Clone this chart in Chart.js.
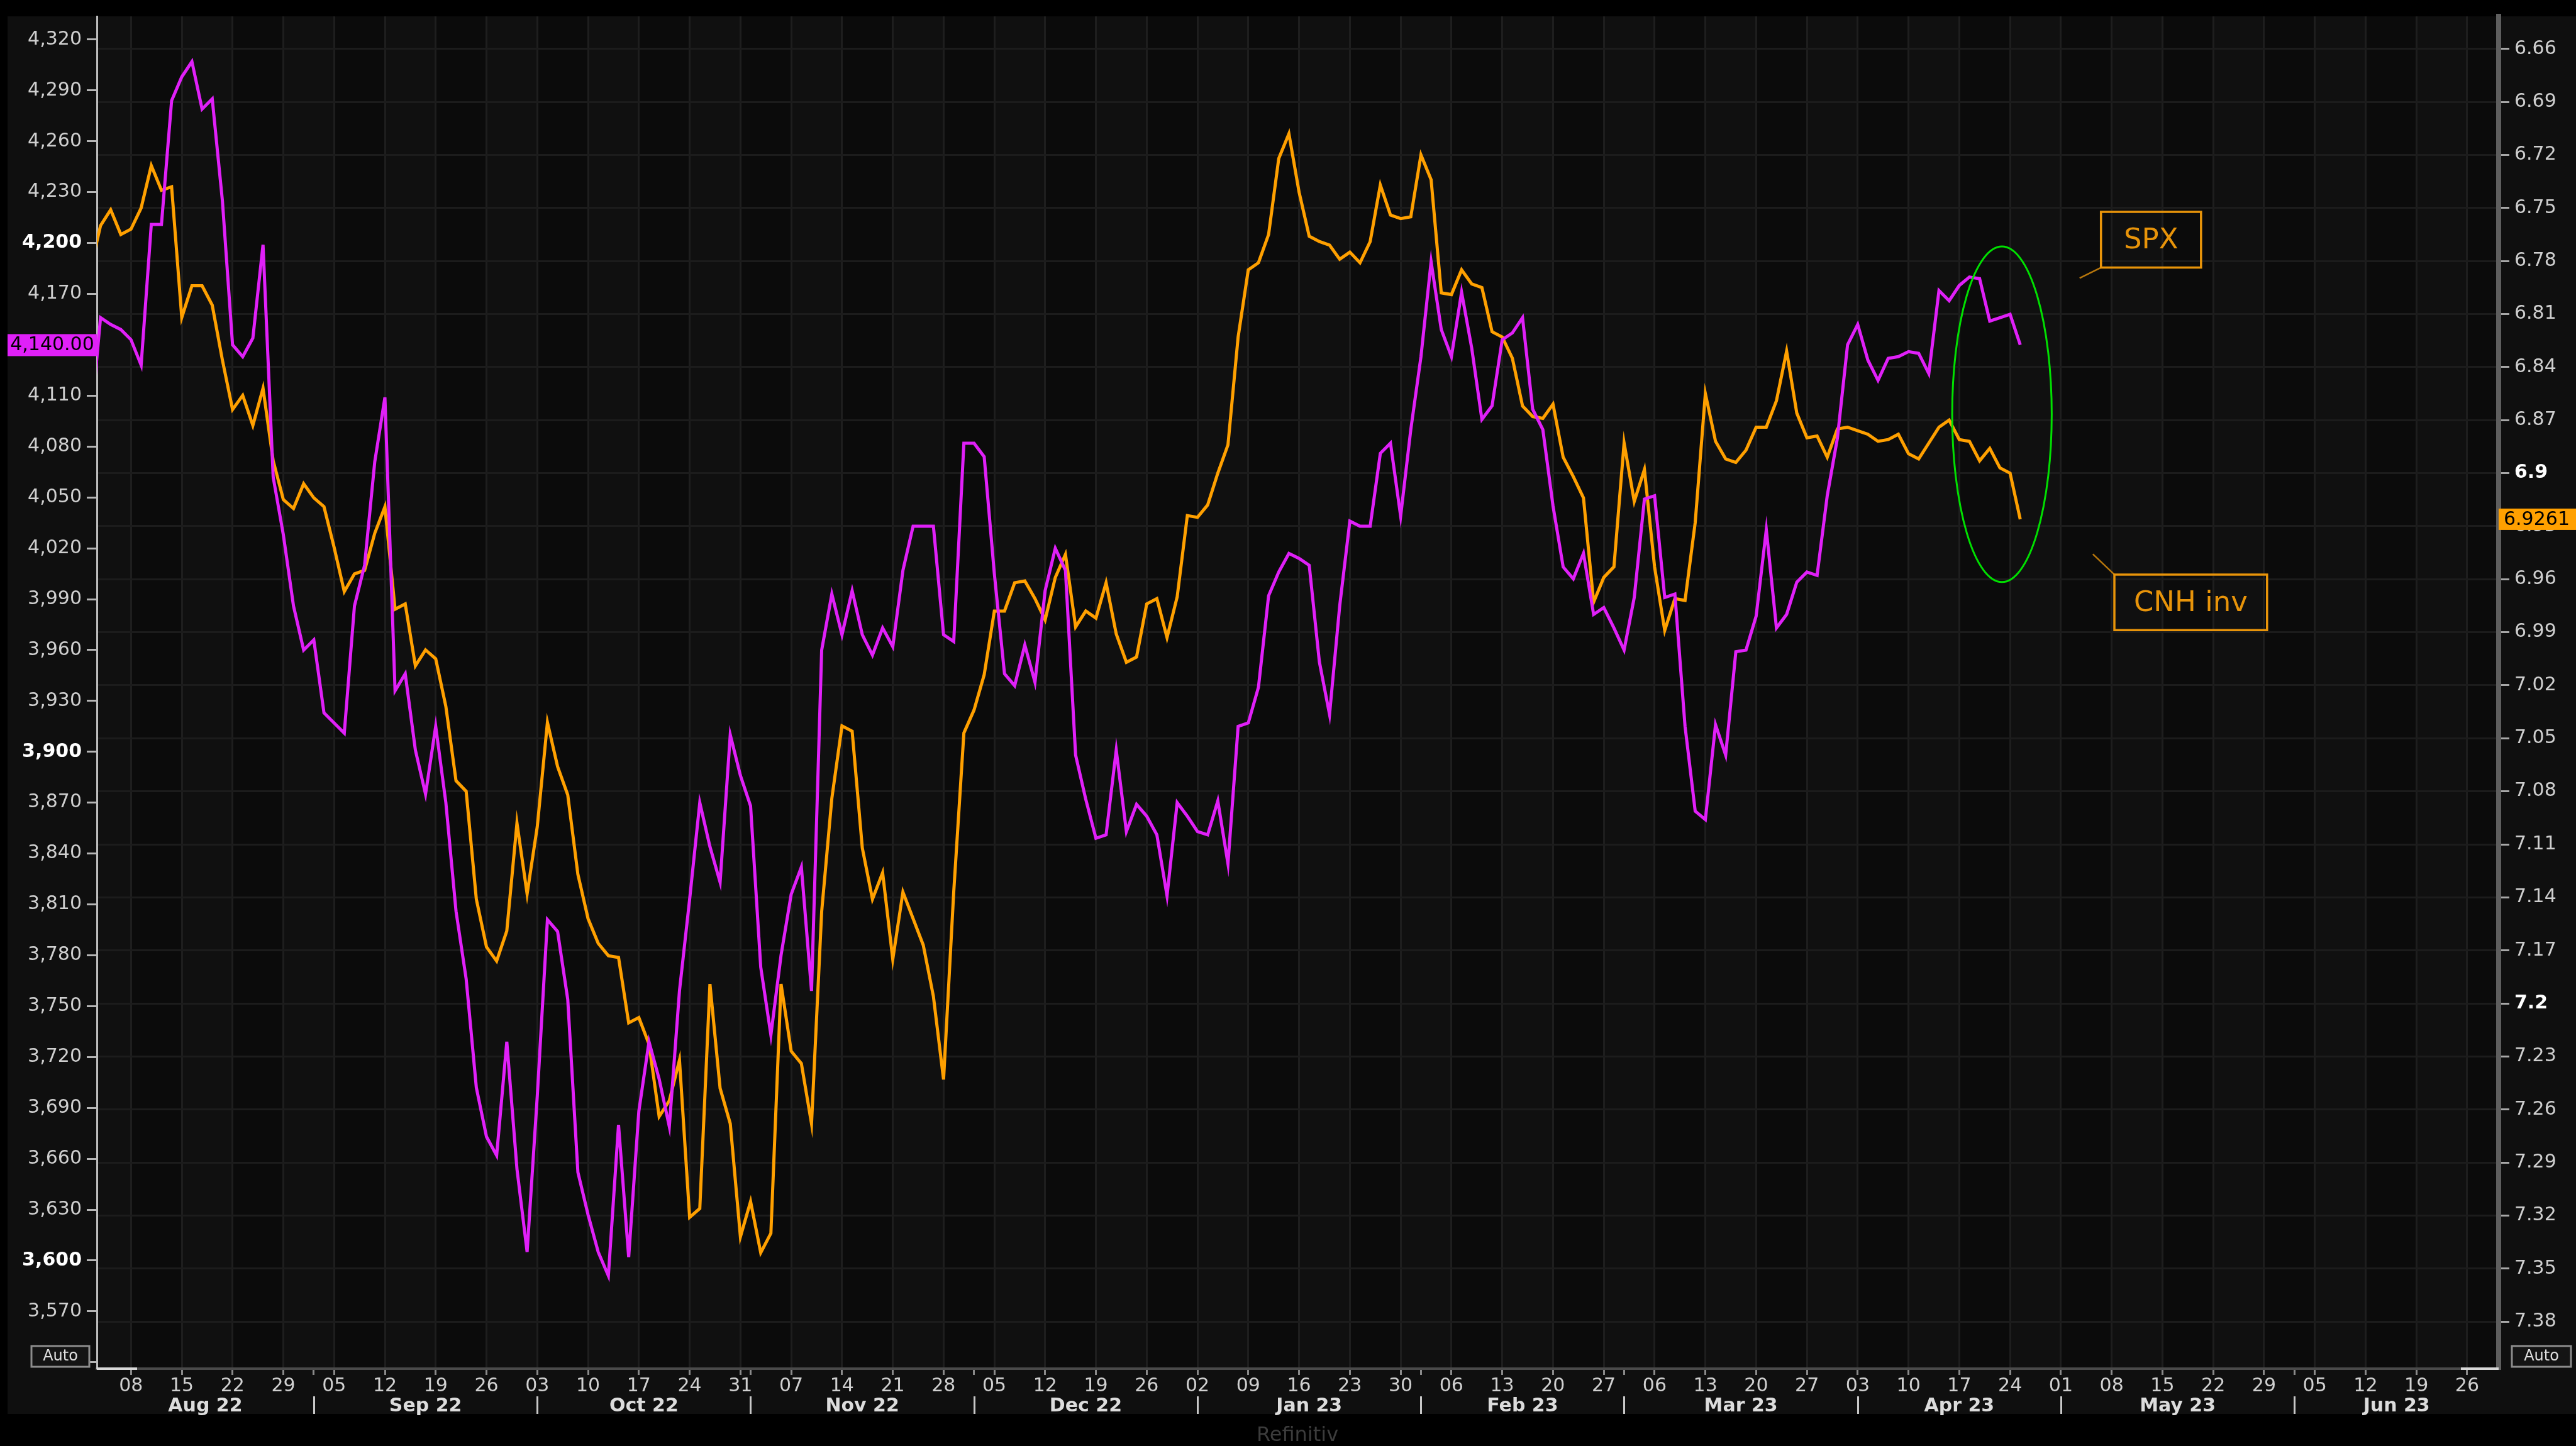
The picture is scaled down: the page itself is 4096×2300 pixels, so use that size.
<!DOCTYPE html>
<html>
<head>
<meta charset="utf-8">
<script src="https://cdn.jsdelivr.net/npm/chart.js@4.4.0/dist/chart.umd.min.js"></script>
<style>
  html, body { margin: 0; padding: 0; background: #000; }
  canvas { display: block; }
</style>
</head>
<body>
<canvas id="chart" width="4096" height="2300"></canvas>
<script>
// trading-day axis: weekdays from the first point to the end of the visible window
const firstDay = '2022-08-02';
const lastAxisDay = '2023-06-30';
const viewFrom = 0.64, viewTo = 237.1;   // visible window, in trading-day index

// SPX (left axis), one value per weekday from 2 Aug 2022
const spx = [4090, 4156, 4152, 4149,
  4143, 4128, 4211, 4211, 4284,  4298, 4307, 4279, 4285, 4225,
  4140, 4133, 4144, 4199, 4062,  4028, 3986, 3960, 3966, 3923,
  3917, 3911, 3986, 4010, 4071,  4109, 3936, 3946, 3901, 3875,
  3915, 3870, 3806, 3766, 3702,  3673, 3662, 3729, 3654, 3605,
  3697, 3801, 3794, 3754, 3652,  3627, 3605, 3591, 3680, 3602,
  3688, 3729, 3707, 3679, 3759,  3813, 3870, 3844, 3823, 3910,
  3886, 3868, 3773, 3733, 3780,  3816, 3832, 3759, 3960, 3993,
  3969, 3995, 3969, 3957, 3973,  3962, 4007, 4033, 4033, 4033,
  3969, 3965, 4082, 4082, 4074,  4005, 3946, 3939, 3963, 3941,
  3995, 4020, 4007, 3898, 3872,  3849, 3851, 3901, 3853, 3869,
  3862, 3851, 3815, 3870, 3862,  3853, 3851, 3871, 3834, 3915,
  3917, 3938, 3992, 4006, 4017,  4014, 4010, 3953, 3922, 3986,
  4036, 4033, 4033, 4076, 4082,  4039, 4090, 4133, 4189, 4149,
  4133, 4171, 4138, 4096, 4104,  4143, 4147, 4156, 4102, 4090,
  4045, 4009, 4002, 4017, 3981,  3985, 3973, 3960, 3991, 4049,
  4051, 3991, 3993, 3915, 3865,  3860, 3916, 3898, 3959, 3960,
  3980, 4031, 3973, 3981, 4000,  4006, 4004, 4051, 4085, 4140,
  4152, 4131, 4119, 4132, 4133,  4136, 4135, 4123, 4172, 4166,
  4175, 4180, 4179, 4154, 4156,  4158, 4140];

// USD/CNH (right axis, inverted)
const cnh = [6.785, 6.760, 6.751, 6.765,
  6.762, 6.750, 6.726, 6.740, 6.738,  6.812, 6.794, 6.794, 6.805, 6.836,
  6.864, 6.856, 6.873, 6.852, 6.893,  6.915, 6.920, 6.906, 6.914, 6.919,
  6.942, 6.967, 6.957, 6.955, 6.934,  6.919, 6.977, 6.974, 7.009, 7.000,
  7.005, 7.032, 7.074, 7.080, 7.141,  7.168, 7.176, 7.159, 7.098, 7.138,
  7.100, 7.041, 7.066, 7.082, 7.127,  7.152, 7.166, 7.173, 7.174, 7.211,
  7.208, 7.223, 7.264, 7.255, 7.232,  7.321, 7.316, 7.189, 7.248, 7.268,
  7.332, 7.312, 7.341, 7.330, 7.189,  7.227, 7.234, 7.268, 7.148, 7.084,
  7.043, 7.046, 7.112, 7.141, 7.126,  7.175, 7.137, 7.152, 7.167, 7.196,
  7.243, 7.137, 7.047, 7.034, 7.014,  6.978, 6.978, 6.962, 6.961, 6.971,
  6.983, 6.959, 6.946, 6.987, 6.978,  6.982, 6.962, 6.991, 7.007, 7.004,
  6.974, 6.971, 6.993, 6.970, 6.924,  6.925, 6.918, 6.900, 6.884, 6.823,
  6.785, 6.781, 6.765, 6.722, 6.708,  6.741, 6.766, 6.769, 6.771, 6.779,
  6.775, 6.781, 6.769, 6.737, 6.754,  6.756, 6.755, 6.720, 6.734, 6.798,
  6.799, 6.785, 6.793, 6.795, 6.820,  6.823, 6.835, 6.862, 6.868, 6.869,
  6.861, 6.891, 6.902, 6.914, 6.973,  6.959, 6.953, 6.883, 6.916, 6.898,
  6.953, 6.989, 6.971, 6.972, 6.928,  6.855, 6.882, 6.892, 6.894, 6.887,
  6.874, 6.874, 6.859, 6.831, 6.866,  6.880, 6.879, 6.891, 6.875, 6.874,
  6.876, 6.878, 6.882, 6.881, 6.878,  6.889, 6.892, 6.883, 6.874, 6.870,
  6.881, 6.882, 6.893, 6.886, 6.897,  6.900, 6.9261];

const leftTicks = [4320, 4290, 4260, 4230, 4200, 4170, 4140, 4110, 4080, 4050, 4020, 3990, 3960,
  3930, 3900, 3870, 3840, 3810, 3780, 3750, 3720, 3690, 3660, 3630, 3600, 3570, 3540];
const leftBold = [4200, 3900, 3600];
const rightTicks = ['6.66', '6.69', '6.72', '6.75', '6.78', '6.81', '6.84', '6.87', '6.9', '6.93',
  '6.96', '6.99', '7.02', '7.05', '7.08', '7.11', '7.14', '7.17', '7.2', '7.23', '7.26', '7.29',
  '7.32', '7.35', '7.38'];
const rightBold = ['6.9', '7.2'];
const monthNames = ['Jan', 'Feb', 'Mar', 'Apr', 'May', 'Jun', 'Jul', 'Aug', 'Sep', 'Oct', 'Nov', 'Dec'];

// annotations, in data units (x = trading-day index, y = CNH)
const ring = { x: 188.2, y: 6.8667, rx: 4.9, ry: 0.0949 };
const notes = [
  { text: 'SPX', x0: 197.95, x1: 207.8, y0: 6.7522, y1: 6.7837, lx: 195.85, ly: 6.7897, ax: 197.95, ay: 6.7837 },
  { text: 'CNH inv', x0: 199.27, x1: 214.3, y0: 6.9574, y1: 6.9888, lx: 197.15, ly: 6.9458, ax: 199.27, ay: 6.9574 }
];

const FONT = "'DejaVu Sans', sans-serif";
const MAGENTA = '#e020f8';
const ORANGE = '#ffa000';

// weekday list
const tradingDays = [];
for (let t = Date.parse(firstDay); t <= Date.parse(lastAxisDay); t += 86400000) {
  const d = new Date(t);
  const wd = d.getUTCDay();
  if (wd > 0 && wd < 6) tradingDays.push(d);
}
const mondays = [];
const monthStarts = [];
tradingDays.forEach((d, i) => {
  if (d.getUTCDay() === 1) mondays.push(i);
  if (i > 0 && d.getUTCMonth() !== tradingDays[i - 1].getUTCMonth()) monthStarts.push(i);
});
const mondaySet = new Set(mondays);
const xTicks = Array.from(new Set([...mondays, ...monthStarts])).sort((a, b) => a - b);

const tickVal = ctx => (ctx && ctx.tick) ? ctx.tick.value : NaN;
const isLeftBold = ctx => leftBold.includes(tickVal(ctx));
const isRightBold = ctx => rightBold.includes(String(+(+tickVal(ctx)).toFixed(2)));

const decor = {
  id: 'decor',
  beforeDraw(chart) {
    const { ctx, chartArea: a, scales: { x } } = chart;
    ctx.save();
    ctx.fillStyle = '#000';
    ctx.fillRect(0, 0, chart.width, chart.height);
    ctx.fillStyle = '#0f0f0f';
    ctx.fillRect(12, a.top, chart.width - 12, a.bottom + 72 - a.top);
    // alternating weekly bands
    const edges = [viewFrom, ...mondays.filter(m => m > viewFrom && m < viewTo), viewTo];
    for (let k = 0; k < edges.length - 1; k++) {
      ctx.fillStyle = (k % 2) === 0 ? '#101010' : '#0b0b0b';
      const p0 = x.getPixelForValue(edges[k]), p1 = x.getPixelForValue(edges[k + 1]);
      ctx.fillRect(p0, a.top, p1 - p0, a.bottom - a.top);
    }
    ctx.restore();
  },
  afterDraw(chart) {
    const { ctx, chartArea: a, scales: { x, y, y1 } } = chart;
    ctx.save();
    // scroll handles on the time bar
    ctx.fillStyle = '#d8d8d8';
    ctx.fillRect(a.left, a.bottom - 2, 64, 4);
    ctx.fillRect(a.right - 60, a.bottom - 2, 60, 4);

    // month row
    ctx.strokeStyle = '#c8c8c8';
    ctx.lineWidth = 3;
    monthStarts.forEach(i => {
      const px = Math.round(x.getPixelForValue(i)) + 0.5;
      ctx.beginPath();
      ctx.moveTo(px, a.bottom + 44);
      ctx.lineTo(px, a.bottom + 72);
      ctx.stroke();
    });
    const bounds = [viewFrom, ...monthStarts, viewTo];
    ctx.fillStyle = '#dcdcdc';
    ctx.font = 'bold 30px ' + FONT;
    ctx.textAlign = 'center';
    ctx.textBaseline = 'middle';
    for (let k = 0; k < bounds.length - 1; k++) {
      const d = tradingDays[Math.ceil(bounds[k])];
      const label = monthNames[d.getUTCMonth()] + ' ' + String(d.getUTCFullYear()).slice(2);
      const cx = (x.getPixelForValue(bounds[k]) + x.getPixelForValue(bounds[k + 1])) / 2;
      ctx.fillText(label, cx, a.bottom + 60);
    }

    // last value tags
    const lastSpx = spx[spx.length - 1], lastCnh = cnh[cnh.length - 1];
    const ys = y.getPixelForValue(lastSpx);
    ctx.fillStyle = MAGENTA;
    ctx.fillRect(12, ys - 17, a.left - 12, 35);
    ctx.fillStyle = '#000';
    ctx.font = '30px ' + FONT;
    ctx.fillText(lastSpx.toLocaleString('en-US', { minimumFractionDigits: 2 }), (12 + a.left) / 2, ys + 1);
    const yc = y1.getPixelForValue(lastCnh);
    ctx.fillStyle = ORANGE;
    ctx.fillRect(a.right, yc - 17, chart.width - a.right, 34);
    ctx.fillStyle = '#000';
    ctx.textAlign = 'left';
    ctx.fillText(lastCnh.toFixed(4), a.right + 8, yc + 1);

    // Auto buttons
    [[50, 92], [3994, 94]].forEach(([bx, bw]) => {
      ctx.fillStyle = '#141414';
      ctx.fillRect(bx, 2141, bw, 33);
      ctx.strokeStyle = '#8c8c8c';
      ctx.lineWidth = 3;
      ctx.strokeRect(bx, 2141, bw, 33);
      ctx.fillStyle = '#e0e0e0';
      ctx.font = '24px ' + FONT;
      ctx.textAlign = 'center';
      ctx.fillText('Auto', bx + bw / 2, 2158);
    });

    // watermark
    ctx.fillStyle = '#3c3c3c';
    ctx.font = '32px ' + FONT;
    ctx.textAlign = 'center';
    ctx.fillText('Refinitiv', 2063, 2284);

    // green ring
    const cx = x.getPixelForValue(ring.x), cy = y1.getPixelForValue(ring.y);
    ctx.strokeStyle = '#00e000';
    ctx.lineWidth = 3;
    ctx.beginPath();
    ctx.ellipse(cx, cy, Math.abs(x.getPixelForValue(ring.x + ring.rx) - cx),
      Math.abs(y1.getPixelForValue(ring.y + ring.ry) - cy), 0, 0, Math.PI * 2);
    ctx.stroke();

    // labelled boxes
    notes.forEach(n => {
      const bx0 = x.getPixelForValue(n.x0), bx1 = x.getPixelForValue(n.x1);
      const by0 = y1.getPixelForValue(n.y0), by1 = y1.getPixelForValue(n.y1);
      ctx.strokeStyle = '#b8770c';
      ctx.lineWidth = 2.5;
      ctx.beginPath();
      ctx.moveTo(x.getPixelForValue(n.ax), y1.getPixelForValue(n.ay));
      ctx.lineTo(x.getPixelForValue(n.lx), y1.getPixelForValue(n.ly));
      ctx.stroke();
      ctx.strokeStyle = '#e8940a';
      ctx.lineWidth = 3.5;
      ctx.strokeRect(bx0, by0, bx1 - bx0, by1 - by0);
      ctx.fillStyle = '#e8940a';
      ctx.font = '45px ' + FONT;
      ctx.textAlign = 'center';
      ctx.fillText(n.text, (bx0 + bx1) / 2, (by0 + by1) / 2 + 2);
    });
    ctx.restore();
  }
};

Chart.defaults.font.family = FONT;

new Chart(document.getElementById('chart').getContext('2d'), {
  type: 'line',
  data: {
    datasets: [
      {
        label: 'SPX',
        data: spx.map((v, i) => ({ x: i, y: v })),
        yAxisID: 'y',
        borderColor: MAGENTA,
        borderWidth: 5,
        pointRadius: 0,
        tension: 0,
        clip: 0
      },
      {
        label: 'CNH inv',
        data: cnh.map((v, i) => ({ x: i, y: v })),
        yAxisID: 'y1',
        borderColor: ORANGE,
        borderWidth: 5,
        pointRadius: 0,
        tension: 0,
        clip: 0
      }
    ]
  },
  options: {
    responsive: false,
    animation: false,
    events: [],
    layout: { padding: { top: 18, left: 0, right: 0, bottom: 0 } },
    plugins: { legend: { display: false }, tooltip: { enabled: false } },
    scales: {
      x: {
        type: 'linear',
        bounds: 'data',
        min: viewFrom,
        max: viewTo,
        afterBuildTicks: s => { s.ticks = xTicks.map(v => ({ value: v })); },
        afterFit: s => { s.height = 123; },
        ticks: {
          autoSkip: false,
          maxRotation: 0,
          padding: 0,
          color: '#d0d0d0',
          font: { size: 30 },
          callback: v => mondaySet.has(v) ? String(tradingDays[v].getUTCDate()).padStart(2, '0') : ''
        },
        grid: {
          color: ctx => mondaySet.has(tickVal(ctx)) ? '#1e1e1e' : 'rgba(0,0,0,0)',
          lineWidth: 3,
          tickLength: 10,
          tickColor: '#8a8a8a',
          tickWidth: 3
        },
        border: { color: '#4a4a4a', width: 4 }
      },
      y: {
        position: 'left',
        bounds: 'data',
        min: 3536.2,
        max: 4333.7,
        afterBuildTicks: s => { s.ticks = leftTicks.map(v => ({ value: v })); },
        afterFit: s => { s.width = 154; },
        ticks: {
          padding: 8,
          color: ctx => isLeftBold(ctx) ? '#ffffff' : '#cfcfcf',
          font: ctx => ({ size: 30, weight: isLeftBold(ctx) ? 'bold' : 'normal' }),
          callback: v => v < 3570 ? '' : v.toLocaleString('en-US')
        },
        grid: { drawOnChartArea: false, tickLength: 16, tickColor: '#b5b5b5', tickWidth: 3 },
        border: { color: '#bdbdbd', width: 3 }
      },
      y1: {
        position: 'right',
        reverse: true,
        bounds: 'data',
        min: 6.6416,
        max: 7.4066,
        afterBuildTicks: s => { s.ticks = rightTicks.map(v => ({ value: +v })); },
        afterFit: s => { s.width = 123; },
        ticks: {
          padding: 8,
          color: ctx => isRightBold(ctx) ? '#ffffff' : '#cfcfcf',
          font: ctx => ({ size: 30, weight: isRightBold(ctx) ? 'bold' : 'normal' }),
          callback: v => rightTicks.find(t => Math.abs(+t - v) < 1e-6)
        },
        grid: { color: '#1c1c1c', lineWidth: 3, tickLength: 17, tickColor: '#a8a8a8', tickWidth: 3 },
        border: { color: '#5e5e5e', width: 8 }
      }
    }
  },
  plugins: [decor]
});
</script>
</body>
</html>
